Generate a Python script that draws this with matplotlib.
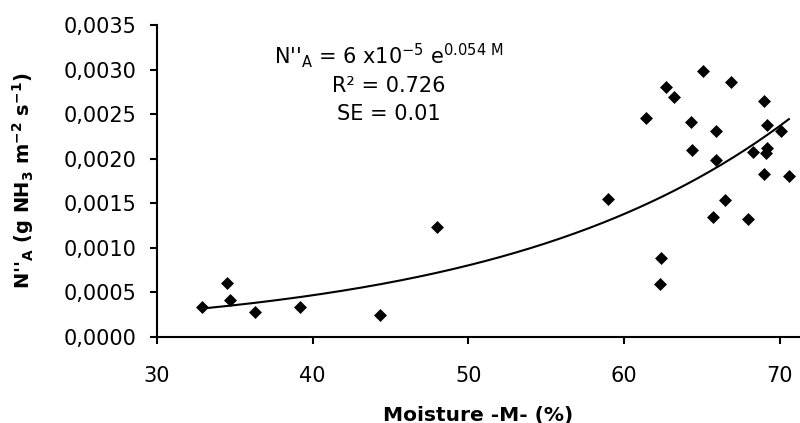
import numpy as np
import matplotlib
matplotlib.use("Agg")
import matplotlib.pyplot as plt

plt.rcParams['font.family'] = ['DejaVu Sans']
plt.rcParams['mathtext.default'] = 'regular'

# Data
moisture = [32.9, 34.5, 34.7, 36.3, 39.2, 44.3, 48.0, 59.0,
            65.1, 66.9, 62.7, 63.2, 69.0, 61.4, 64.3, 65.9, 69.2, 70.1,
            64.4, 65.9, 68.3, 69.2, 69.1, 69.0, 70.6, 66.5,
            65.75, 68.0, 62.4, 62.3]
flux = [0.00034, 0.00061, 0.000415, 0.000277, 0.000333, 0.000243, 0.00123, 0.00155,
        0.00298, 0.00286, 0.00280, 0.00269, 0.00265, 0.00246, 0.00241, 0.00231, 0.00238, 0.00231,
        0.00210, 0.00199, 0.00207, 0.00212, 0.00206, 0.00183, 0.00181, 0.00154,
        0.00135, 0.00132, 0.00089, 0.00060]

# Exponential trend line parameters (as drawn)
fit_a = 5.4e-5
fit_b = 0.054
fit_range = (33.0, 70.6)

x_ticks = [30, 40, 50, 60, 70]
y_ticks = [0.0, 0.0005, 0.0010, 0.0015, 0.0020, 0.0025, 0.0030, 0.0035]
y_ticklabels = ["0,0000", "0,0005", "0,0010", "0,0015", "0,0020", "0,0025", "0,0030", "0,0035"]

fig = plt.figure(figsize=(8.0, 4.23), dpi=100)
ax = fig.add_axes([157/800, 1 - 337/423, 642/800, 312/423])

ax.scatter(moisture, flux, marker='D', s=6.6**2, color='black', linewidths=0, zorder=3)

mm = np.linspace(fit_range[0], fit_range[1], 200)
ax.plot(mm, fit_a * np.exp(fit_b * mm), color='black', lw=1.5, zorder=2)

ax.set_xlim(30, 71.25)
ax.set_ylim(0, 0.0035)
ax.set_xticks(x_ticks)
ax.set_xticklabels([str(t) for t in x_ticks])
ax.set_yticks(y_ticks)
ax.set_yticklabels(y_ticklabels)

for s in ['top', 'right']:
    ax.spines[s].set_visible(False)
for s in ['left', 'bottom']:
    ax.spines[s].set_linewidth(1.5)
ax.tick_params(axis='both', direction='out', length=5, width=1.5, labelsize=15, colors='black')
ax.tick_params(axis='y', pad=10)
ax.tick_params(axis='x', pad=16)

ax.set_xlabel("Moisture -M- (%)", fontsize=14.5, fontweight='bold', labelpad=14)
ax.set_ylabel(r"N''$_{A}$ (g NH$_{3}$ m$^{-2}$ s$^{-1}$)", fontsize=14, fontweight='bold', labelpad=20)

ax.text(44.9, 0.00316, r"N''$_{A}$ = 6 x10$^{-5}$ e$^{0.054\ M}$", ha='center', va='center', fontsize=15)
ax.text(44.9, 0.00282, r"R² = 0.726", ha='center', va='center', fontsize=15)
ax.text(44.9, 0.00250, r"SE = 0.01", ha='center', va='center', fontsize=15)

fig.savefig("out.png", dpi=100)
